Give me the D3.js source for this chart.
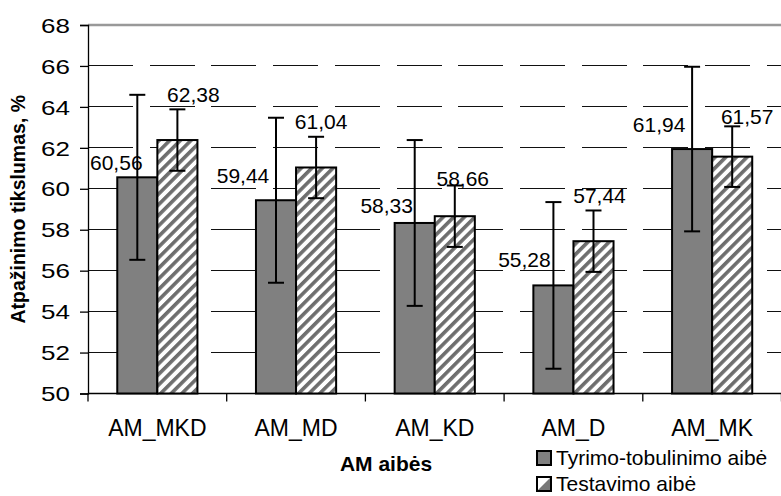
<!DOCTYPE html>
<html>
<head>
<meta charset="utf-8">
<script src="https://cdn.jsdelivr.net/npm/d3@7"></script>
<style>
  html, body { margin: 0; padding: 0; background: #fff; }
  svg { display: block; font-family: "Liberation Sans", Arial, sans-serif; }
</style>
</head>
<body>
<svg id="chart" width="781" height="496"></svg>
<script>
// ---- data ----
const categories = ["AM_MKD", "AM_MD", "AM_KD", "AM_D", "AM_MK"];
const trainValues = [60.56, 59.44, 58.33, 55.28, 61.94];
const testValues  = [62.38, 61.04, 58.66, 57.44, 61.57];
const trainErrors = [4.03, 4.03, 4.05, 4.07, 4.02];
const testErrors  = [1.50, 1.50, 1.50, 1.50, 1.48];
const yTicks = [50, 52, 54, 56, 58, 60, 62, 64, 66, 68];
const seriesNames = ["Tyrimo-tobulinimo aibė", "Testavimo aibė"];
const yTitle = "Atpažinimo tikslumas, %";
const xTitle = "AM aibės";

// manual label nudges (px) relative to bar centre / bar top, as placed in the original
const trainLabelDx = [-21, -33, -28, -29, -33];
const trainLabelDy = [-7, -17, -10, -18, -17];
const testLabelDx  = [16, 5, 8, 6, 15];
const testLabelDy  = [-38, -38, -30, -38, -33];

(function () {
// ---- layout ----
const svg = d3.select("#chart");
const pLeft = 88, pRight = 781.5, pTop = 25, pBottom = 393.5;

const x = d3.scaleBand().domain(categories).range([pLeft, pRight]).padding(0);
const y = d3.scaleLinear().domain([50, 68]).range([pBottom, pTop]);
const bw = x.bandwidth();
const barW = bw * 0.289;
const offset = (bw - 2 * barW) / 2;

const locale = d3.formatLocale({decimal: ",", thousands: " ", grouping: [3], currency: ["", ""]});
const fmt = locale.format(".2f");

// hatch pattern
const defs = svg.append("defs");
const pat = defs.append("pattern")
  .attr("id", "hatch").attr("patternUnits", "userSpaceOnUse")
  .attr("width", 7.5).attr("height", 7.5)
  .attr("patternTransform", "rotate(45)");
pat.append("rect").attr("width", 7.5).attr("height", 7.5).attr("fill", "#fff");
pat.append("rect").attr("x", 0).attr("width", 3.6).attr("height", 7.5).attr("fill", "#6e6e6e");

// gridlines (long-dash)
svg.append("g").selectAll("line").data(yTicks.filter(t => t > 50 && t < 68)).join("line")
  .attr("x1", pLeft).attr("x2", pRight)
  .attr("y1", d => y(d)).attr("y2", d => y(d))
  .attr("stroke", "#111").attr("stroke-width", 1)
  .attr("stroke-dasharray", "45 16.7")
  .attr("shape-rendering", "crispEdges");

// top border
svg.append("line").attr("x1", pLeft).attr("x2", pRight).attr("y1", y(68)).attr("y2", y(68))
  .attr("stroke", "#999").attr("stroke-width", 2.5);

// y axis
const tickStretch = 1.3;
const yAxis = d3.axisLeft(y).tickValues(yTicks).tickSize(8).tickPadding(10).tickFormat(d3.format("d"));
const gy = svg.append("g").attr("transform", `translate(${pLeft},0)`).call(yAxis);
gy.select(".domain").attr("stroke", "#000").attr("stroke-width", 1.3);
gy.selectAll(".tick line").attr("stroke", "#000").attr("stroke-width", 1.3);
gy.selectAll(".tick text").attr("font-size", 20).attr("fill", "#000")
  .attr("font-family", "Liberation Sans, Arial, sans-serif").attr("dy", "0.36em")
  .attr("x", -18 / tickStretch).attr("transform", `scale(${tickStretch},1)`);

// x axis
const xAxis = d3.axisBottom(x).tickSize(0).tickPadding(0);
const gx = svg.append("g").attr("transform", `translate(0,${pBottom})`).call(xAxis);
gx.select(".domain").remove();
gx.selectAll(".tick text").attr("font-size", 23).attr("fill", "#000")
  .attr("font-family", "Liberation Sans, Arial, sans-serif").attr("dy", 0).attr("y", 42);
svg.append("line").attr("x1", pLeft).attr("x2", pRight).attr("y1", pBottom).attr("y2", pBottom)
  .attr("stroke", "#000").attr("stroke-width", 1.3);
const boundaries = categories.map(c => x(c)).concat([pRight]);
svg.append("g").selectAll("line").data(boundaries).join("line")
  .attr("x1", d => d).attr("x2", d => d).attr("y1", pBottom).attr("y2", pBottom + 8)
  .attr("stroke", "#000").attr("stroke-width", 1.3);

// bars
const groups = svg.append("g").selectAll("g").data(categories).join("g");
groups.append("rect")
  .attr("x", c => x(c) + offset).attr("width", barW)
  .attr("y", (c, i) => y(trainValues[i])).attr("height", (c, i) => pBottom - y(trainValues[i]))
  .attr("fill", "#808080").attr("stroke", "#000").attr("stroke-width", 2);
groups.append("rect")
  .attr("x", c => x(c) + offset + barW).attr("width", barW)
  .attr("y", (c, i) => y(testValues[i])).attr("height", (c, i) => pBottom - y(testValues[i]))
  .attr("fill", "url(#hatch)").attr("stroke", "#000").attr("stroke-width", 2);

// error bars
function errBar(g, cx, v, e) {
  g.append("line").attr("x1", cx).attr("x2", cx).attr("y1", y(v + e)).attr("y2", y(v - e))
    .attr("stroke", "#000").attr("stroke-width", 2);
  [v + e, v - e].forEach(t => {
    g.append("line").attr("x1", cx - 8).attr("x2", cx + 8).attr("y1", y(t)).attr("y2", y(t))
      .attr("stroke", "#000").attr("stroke-width", 2);
  });
}
groups.each(function(c, i) {
  const g = d3.select(this);
  errBar(g, x(c) + offset + barW / 2, trainValues[i], trainErrors[i]);
  errBar(g, x(c) + offset + barW * 1.5, testValues[i], testErrors[i]);
});

// value labels
groups.append("text")
  .attr("x", (c, i) => x(c) + offset + barW / 2 + trainLabelDx[i])
  .attr("y", (c, i) => y(trainValues[i]) + trainLabelDy[i])
  .attr("text-anchor", "middle").attr("font-size", 21).attr("fill", "#000")
  .text((c, i) => fmt(trainValues[i]));
groups.append("text")
  .attr("x", (c, i) => x(c) + offset + barW * 1.5 + testLabelDx[i])
  .attr("y", (c, i) => y(testValues[i]) + testLabelDy[i])
  .attr("text-anchor", "middle").attr("font-size", 21).attr("fill", "#000")
  .text((c, i) => fmt(testValues[i]));

// axis titles
svg.append("text").attr("transform", `translate(25,${(pTop + pBottom) / 2}) rotate(-90)`)
  .attr("text-anchor", "middle").attr("font-size", 19.5).attr("font-weight", "bold").text(yTitle);
svg.append("text").attr("x", 386).attr("y", 471)
  .attr("text-anchor", "middle").attr("font-size", 21).attr("font-weight", "bold").text(xTitle);

// legend
const lg = svg.append("g");
lg.append("rect").attr("x", 537).attr("y", 451).attr("width", 14).attr("height", 14)
  .attr("fill", "#808080").attr("stroke", "#000").attr("stroke-width", 2);
lg.append("text").attr("x", 556).attr("y", 465).attr("font-size", 21).text(seriesNames[0]);
lg.append("rect").attr("x", 537).attr("y", 477).attr("width", 14).attr("height", 14)
  .attr("fill", "#fff").attr("stroke", "#000").attr("stroke-width", 2);
lg.append("path").attr("d", "M551,477 L551,491 L537,491 Z").attr("fill", "#777");
lg.append("rect").attr("x", 537).attr("y", 477).attr("width", 14).attr("height", 14)
  .attr("fill", "none").attr("stroke", "#000").attr("stroke-width", 2);
lg.append("text").attr("x", 556).attr("y", 491).attr("font-size", 21).text(seriesNames[1]);
})();
</script>
</body>
</html>
